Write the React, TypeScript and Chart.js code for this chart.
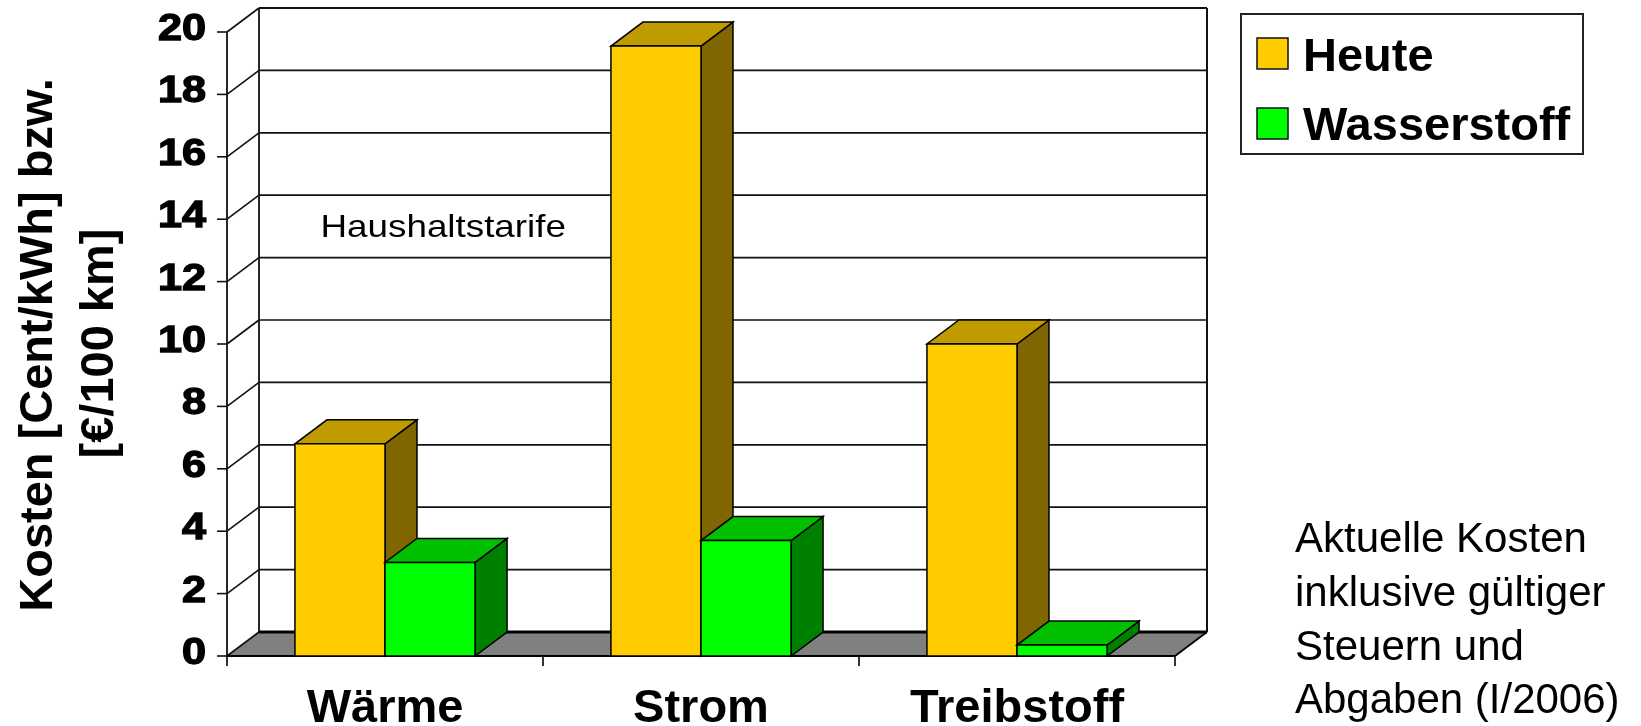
import React, { useEffect, useRef } from 'react';
import { Chart, registerables } from 'chart.js';

Chart.register(...registerables);

const categories = ['Wärme', 'Strom', 'Treibstoff'];
const seriesNames = ['Heute', 'Wasserstoff'];
const heuteValues = [6.8, 19.55, 10.0];
const wasserstoffValues = [3.0, 3.7, 0.35];
const yTicks = [0, 2, 4, 6, 8, 10, 12, 14, 16, 18, 20];
const yTitleLines = ['Kosten [Cent/kWh] bzw.', '[€/100 km]'];
const innerNote = 'Haushaltstarife';
const noteLines = ['Aktuelle Kosten', 'inklusive gültiger', 'Steuern und', 'Abgaben (I/2006)'];

const FRONT = ['#FFCC00', '#00FF00'];
const TOP = ['#C09B00', '#00C000'];
const SIDE = ['#806600', '#008000'];
const DX = 32;
const DY = -24;
const FONT = '"Liberation Sans", Arial, Helvetica, sans-serif';

function poly(ctx: CanvasRenderingContext2D, pts: number[][], fill: string | null, stroke: string | null, lw = 1.5) {
  ctx.beginPath();
  ctx.moveTo(pts[0][0], pts[0][1]);
  for (let i = 1; i < pts.length; i++) ctx.lineTo(pts[i][0], pts[i][1]);
  ctx.closePath();
  if (fill) {
    ctx.fillStyle = fill;
    ctx.fill();
  }
  if (stroke) {
    ctx.strokeStyle = stroke;
    ctx.lineWidth = lw;
    ctx.lineJoin = 'miter';
    ctx.stroke();
  }
}

function line(ctx: CanvasRenderingContext2D, x1: number, y1: number, x2: number, y2: number, lw = 1.5, color = '#111') {
  ctx.beginPath();
  ctx.moveTo(x1, y1);
  ctx.lineTo(x2, y2);
  ctx.strokeStyle = color;
  ctx.lineWidth = lw;
  ctx.stroke();
}

const threeDPlugin = {
  id: 'threeD',
  beforeDatasetsDraw(chart: any) {
    const { ctx, chartArea: a, scales } = chart;
    const ys = scales.y;
    const xs = scales.x;
    const x0 = a.left;
    const x1 = a.right;
    const yb = a.bottom;
    ctx.save();
    // floor
    poly(ctx, [[x0, yb], [x1, yb], [x1 + DX, yb + DY], [x0 + DX, yb + DY]], '#808080', null);
    // back wall gridlines, side-wall diagonals, tick marks
    for (const v of yTicks) {
      const py = ys.getPixelForValue(v);
      if (v > 0) line(ctx, x0 + DX, py + DY, x1 + DX, py + DY, v === 20 ? 2 : 1.7, '#111');
      line(ctx, x0, py, x0 + DX, py + DY, 1.6, '#111');
      line(ctx, x0 - 10, py, x0, py, 1.6, '#111');
    }
    const topV = ys.getPixelForValue(20);
    line(ctx, x0 + DX, topV + DY, x0 + DX, yb + DY, 1.8, '#111');
    line(ctx, x1 + DX, topV + DY, x1 + DX, yb + DY, 2, '#111');
    line(ctx, x0, topV, x0, yb, 1.8, '#111');
    // floor edges
    line(ctx, x0 + DX, yb + DY, x1 + DX, yb + DY, 3, '#000');
    line(ctx, x1, yb, x1 + DX, yb + DY, 1.8, '#000');
    line(ctx, x0, yb, x1, yb, 2, '#000');
    // x ticks at category boundaries
    const step = xs.getPixelForValue(1) - xs.getPixelForValue(0);
    for (let i = 0; i <= categories.length; i++) {
      const px = xs.getPixelForValue(0) - step / 2 + i * step;
      line(ctx, px, yb, px, yb + 10, 1.6, '#000');
    }
    ctx.restore();
  },
  afterDatasetsDraw(chart: any) {
    const { ctx } = chart;
    const metas = [chart.getDatasetMeta(0), chart.getDatasetMeta(1)];
    ctx.save();
    for (let i = 0; i < categories.length; i++) {
      metas.forEach((meta: any, idx: number) => {
        const el = meta.data[i];
        if (!el) return;
        const p = el.getProps(['x', 'y', 'base', 'width'], true);
        const l = p.x - p.width / 2;
        const r = p.x + p.width / 2;
        const top = p.y;
        const base = p.base;
        poly(ctx, [[r, top], [r + DX, top + DY], [r + DX, base + DY], [r, base]], SIDE[idx], '#000', 1.5);
        poly(ctx, [[l, top], [r, top], [r + DX, top + DY], [l + DX, top + DY]], TOP[idx], '#000', 1.5);
        poly(ctx, [[l, top], [r, top], [r, base], [l, base]], FRONT[idx], '#000', 1.5);
      });
    }
    ctx.restore();
  },
  afterDraw(chart: any) {
    const { ctx, chartArea: a, scales } = chart;
    const ys = scales.y;
    const xs = scales.x;
    ctx.save();
    ctx.fillStyle = '#000';
    // y tick labels (wide heavy digits as in the original)
    ctx.font = `bold 36px ${FONT}`;
    ctx.textAlign = 'right';
    ctx.textBaseline = 'alphabetic';
    ctx.strokeStyle = '#000';
    ctx.lineWidth = 1.3;
    for (const v of yTicks) {
      const py = ys.getPixelForValue(v);
      ctx.save();
      ctx.translate(a.left - 21, py + 8);
      ctx.scale(1.2, 1);
      ctx.fillText(String(v), 0, 0);
      ctx.strokeText(String(v), 0, 0);
      ctx.restore();
    }
    // x category labels
    ctx.font = `bold 47px ${FONT}`;
    ctx.textAlign = 'center';
    categories.forEach((c, i) => {
      ctx.fillText(c, xs.getPixelForValue(i), 722);
    });
    // y axis title
    const titleX = [51.5, 113];
    const titleY = [345, 343.5];
    yTitleLines.forEach((t, i) => {
      ctx.save();
      ctx.translate(titleX[i], titleY[i]);
      ctx.rotate(-Math.PI / 2);
      ctx.textAlign = 'center';
      ctx.fillText(t, 0, 0);
      ctx.restore();
    });
    // inner note
    ctx.save();
    ctx.font = `32px ${FONT}`;
    ctx.textAlign = 'left';
    ctx.translate(320.5, 237);
    ctx.scale(1.15, 1);
    ctx.fillText(innerNote, 0, 0);
    ctx.restore();
    // side note
    ctx.font = `42px ${FONT}`;
    ctx.textAlign = 'left';
    const noteBase = [551.5, 605.5, 659.5, 713];
    noteLines.forEach((t, i) => ctx.fillText(t, 1295, noteBase[i]));
    // legend
    ctx.lineWidth = 2;
    ctx.strokeStyle = '#222';
    ctx.fillStyle = '#fff';
    ctx.fillRect(1241, 14, 342, 140);
    ctx.strokeRect(1241, 14, 342, 140);
    const sqY = [38, 108];
    const txtY = [70.5, 139.5];
    seriesNames.forEach((n, i) => {
      ctx.fillStyle = FRONT[i];
      ctx.fillRect(1257, sqY[i], 31, 31);
      ctx.lineWidth = 1.5;
      ctx.strokeStyle = '#111';
      ctx.strokeRect(1257, sqY[i], 31, 31);
      ctx.fillStyle = '#000';
      ctx.font = `bold 47px ${FONT}`;
      ctx.textAlign = 'left';
      ctx.fillText(n, 1303, txtY[i]);
    });
    ctx.restore();
  },
};

export default function App() {
  const ref = useRef<HTMLCanvasElement | null>(null);
  useEffect(() => {
    document.body.style.margin = '0';
    const canvas = ref.current;
    if (!canvas) return;
    const chart = new Chart(canvas, {
      type: 'bar',
      data: {
        labels: categories,
        datasets: [
          { label: seriesNames[0], data: heuteValues, backgroundColor: FRONT[0], borderWidth: 0 },
          { label: seriesNames[1], data: wasserstoffValues, backgroundColor: FRONT[1], borderWidth: 0 },
        ],
      },
      options: {
        responsive: false,
        animation: false,
        devicePixelRatio: 1,
        layout: { padding: { left: 227, right: 466, top: 32, bottom: 70 } },
        datasets: { bar: { categoryPercentage: 0.57, barPercentage: 1.0 } },
        scales: {
          x: { type: 'category', display: false, offset: true, grid: { display: false } },
          y: { min: 0, max: 20, display: false, ticks: { stepSize: 2 } },
        },
        plugins: {
          legend: { display: false },
          tooltip: { enabled: false },
          title: { display: false },
        },
      } as any,
      plugins: [threeDPlugin],
    });
    return () => chart.destroy();
  }, []);
  return (
    <div style={{ width: 1641, height: 726, position: 'relative', background: '#fff' }}>
      <canvas ref={ref} width={1641} height={726} style={{ display: 'block' }} />
    </div>
  );
}
